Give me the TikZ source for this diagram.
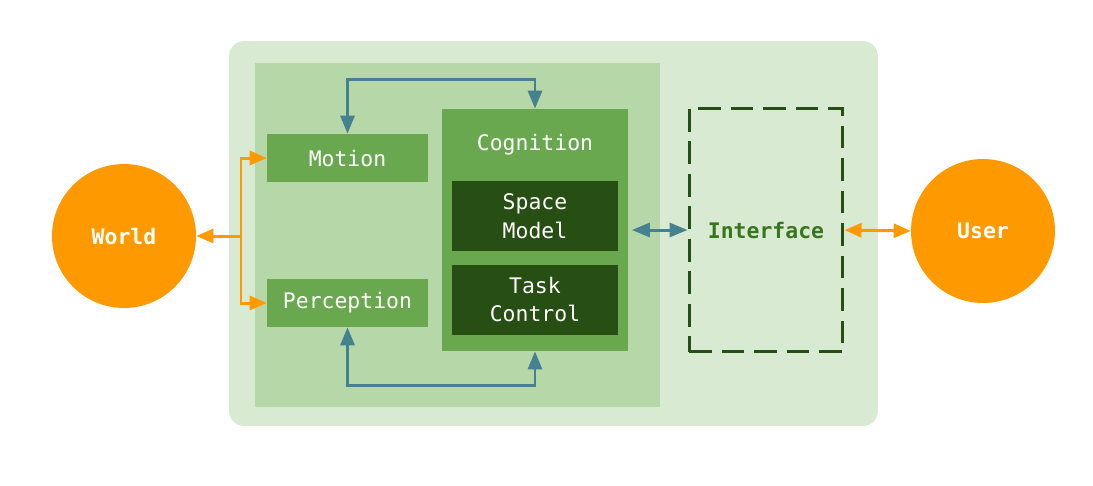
\documentclass[tikz,border=0pt]{standalone}
\usepackage{fontspec}
\setmonofont{DejaVu Sans Mono}
\usetikzlibrary{arrows.meta}
\definecolor{PaleGreen}{HTML}{D9EAD3}
\definecolor{LightGreen}{HTML}{B6D7A8}
\definecolor{MidGreen}{HTML}{6AA84F}
\definecolor{DeepGreen}{HTML}{274E13}
\definecolor{LabelGreen}{HTML}{38761D}
\definecolor{SunOrange}{HTML}{FF9900}
\definecolor{SeaTeal}{HTML}{45818E}
\tikzset{
    boxfont/.style={font=\ttfamily\fontsize{12.2}{16.5}\selectfont},
    modbox/.style={boxfont, fill=MidGreen, text=white, inner sep=0pt, minimum width=3.22cm, minimum height=0.96cm},
    subbox/.style={boxfont, fill=DeepGreen, text=white, inner sep=0pt, align=center, minimum width=3.32cm, minimum height=1.4cm},
    actor/.style={boxfont, circle, fill=SunOrange, text=white, inner sep=0pt, minimum size=2.88cm, font=\ttfamily\bfseries\fontsize{12.2}{16.5}\selectfont},
    tealarrow/.style={draw=SeaTeal, line width=1.7pt, {Triangle[length=0.36cm, width=0.28cm]}-{Triangle[length=0.36cm, width=0.28cm]}},
    orangearrow/.style={draw=SunOrange, line width=1.7pt, -{Triangle[length=0.34cm, width=0.28cm]}}
}

\begin{document}
\begin{tikzpicture}[x=0.02cm, y=-0.02cm]
    \useasboundingbox (0,0) rectangle (1093,485);
    \node[fill=PaleGreen, rounded corners=0.3cm, minimum width=12.98cm, minimum height=7.7cm] (system) at (553.5,233.5) {};
    \node[fill=LightGreen, minimum width=8.1cm, minimum height=6.88cm] (robot) at (457.5,235) {};
    \node[modbox] (motion) at (347.5,158) {Motion};
    \node[modbox] (perception) at (347.5,303) {Perception};
    \node[fill=MidGreen, minimum width=3.72cm, minimum height=4.84cm] (cog) at (535,230) {};
    \node[boxfont, text=white] (coglabel) at (535,145) {Cognition};
    \node[subbox] (space) at (535,216) {Space\\Model};
    \node[subbox] (task) at (535,299.5) {Task\\Control};
    \node[draw=DeepGreen, line width=1.7pt, dash pattern=on 13pt off 5.5pt, minimum width=3.08cm, minimum height=4.88cm,
          boxfont, font=\ttfamily\bfseries\fontsize{12.2}{16.5}\selectfont, text=LabelGreen] (iface) at (766,230) {Interface};
    \node[actor] (world) at (124,236) {World};
    \node[actor] (user) at (983,231) {User};
    % loops between the modules and cognition
    \draw[tealarrow] (motion.north) -- ++(0,-54) -| (cog.north);
    \draw[tealarrow] (perception.south) -- ++(0,58) -| (cog.south);
    \draw[tealarrow, shorten <=2pt] (cog.east) -- (iface.west);
    \draw[orangearrow, {Triangle[length=0.34cm, width=0.28cm]}-{Triangle[length=0.34cm, width=0.28cm]}] (iface.east) -- (user.west);
    % world fans out to motion and perception
    \coordinate (fork) at (241,236);
    \draw[orangearrow] (fork) -- (world.east);
    \draw[orangearrow] (fork) |- (motion.west);
    \draw[orangearrow] (fork) |- (perception.west);
\end{tikzpicture}
\end{document}
